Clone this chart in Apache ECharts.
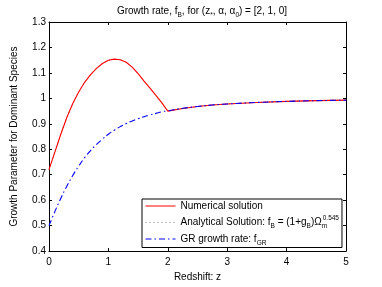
<!DOCTYPE html>
<html><head><meta charset="utf-8">
<script src="https://cdn.jsdelivr.net/npm/echarts@6/dist/echarts.min.js"></script>
<style>html,body{margin:0;padding:0;background:#fff}#c{width:382px;height:287px}</style>
</head><body><div id="c"></div>
<script>
var zValues = [0,0.1,0.2,0.3,0.4,0.5,0.6,0.7,0.8,0.9,1.0,1.1,1.2,1.3,1.4,1.5,1.6,1.7,1.8,1.9,2.0,2.25,2.5,2.75,3.0,3.5,4.0,4.5,5.0];
var numerical = [0.72,0.79,0.86,0.925,0.98,1.025,1.063,1.093,1.118,1.137,1.150,1.154,1.152,1.142,1.123,1.097,1.068,1.040,1.012,0.982,0.950,0.960,0.968,0.974,0.978,0.984,0.988,0.991,0.993];
var analytical = numerical.slice();
var grRate = [0.500,0.556,0.608,0.655,0.697,0.734,0.767,0.795,0.819,0.840,0.859,0.875,0.889,0.901,0.911,0.920,0.928,0.935,0.941,0.947,0.951,0.961,0.968,0.974,0.978,0.984,0.988,0.991,0.993];
var xTicks = [0,1,2,3,4,5];
var yTicks = [0.4,0.5,0.6,0.7,0.8,0.9,1,1.1,1.2,1.3];

function pairs(ys){ return zValues.map(function(z,i){ return [z, ys[i]]; }); }
var FONT = 'Liberation Sans, Arial, sans-serif';
var FS = 10;
var chart = echarts.init(document.getElementById('c'), null, {renderer:'canvas'});
var axisCommon = {
  axisLine:{show:true,onZero:false,lineStyle:{color:'#000',width:1}},
  axisTick:{show:true,inside:true,length:3,lineStyle:{color:'#000'}},
  splitLine:{show:false}
};
var rich = {
  a:{fontSize:FS,fontFamily:FONT,color:'#000',lineHeight:15,verticalAlign:'middle'},
  sub:{fontSize:6.5,fontFamily:FONT,color:'#000',lineHeight:15,verticalAlign:'bottom',padding:[5,0,0,0]},
  subm:{fontSize:6.5,fontFamily:FONT,color:'#000',lineHeight:15,verticalAlign:'bottom',padding:[5,0,0,0],width:1},
  sup:{fontSize:6.5,fontFamily:FONT,color:'#000',lineHeight:15,verticalAlign:'top',padding:[0,0,5,0]}
};
var names = ['Numerical solution','Analytical Solution','GR growth rate'];
chart.setOption({
  animation:false,
  backgroundColor:'#fff',
  title:{
    text:'{a|Growth rate, f}{sub|B}{a|, for (z}{sub|*}{a|, α, α}{sub|0}{a|) = [2, 1, 0]}',
    left:197, top:-1, textAlign:'center',
    textStyle:{rich:rich, fontWeight:'normal'}
  },
  grid:{left:49,top:22,right:36,bottom:33},
  legend:{
    orient:'vertical', left:142, top:199,
    data:names,
    itemWidth:30, itemHeight:10, itemGap:4,
    itemStyle:{opacity:0},
    lineStyle:{width:1},
    padding:[2,3,1,3],
    borderColor:'#000', borderWidth:1, backgroundColor:'#fff',
    formatter:function(n){
      if(n===names[0]) return '{a|Numerical solution}';
      if(n===names[1]) return '{a|Analytical Solution: f}{sub|B}{a| = (1+g}{sub|B}{a|)Ω}{subm|m}{sup|0.545}';
      return '{a|GR growth rate: f}{sub|GR}';
    },
    textStyle:{rich:rich}
  },
  xAxis:[
    Object.assign({type:'value',min:0,max:5,interval:1,position:'bottom',
      name:'Redshift: z',nameLocation:'middle',nameGap:19,
      nameTextStyle:{fontFamily:FONT,fontSize:FS,color:'#000'},
      axisLabel:{fontFamily:FONT,fontSize:FS,color:'#000',margin:6,
        formatter:function(v){return xTicks.indexOf(v)>=0?String(v):'';}}},axisCommon),
    Object.assign({type:'value',min:0,max:5,interval:1,position:'top',axisLabel:{show:false}},axisCommon)
  ],
  yAxis:[
    Object.assign({type:'value',min:0.4,max:1.3,interval:0.1,position:'left',
      name:'Growth Parameter for Dominant Species',nameLocation:'middle',nameGap:30,
      nameTextStyle:{fontFamily:FONT,fontSize:FS,color:'#000'},
      axisLabel:{fontFamily:FONT,fontSize:FS,color:'#000',margin:3,
        formatter:function(v){return String(+v.toFixed(1));}}},axisCommon),
    Object.assign({type:'value',min:0.4,max:1.3,interval:0.1,position:'right',axisLabel:{show:false}},axisCommon)
  ],
  series:[
    {name:names[0],type:'line',data:pairs(numerical),smooth:false,showSymbol:false,symbol:'none',
      lineStyle:{color:'#ff0000',width:1.1},itemStyle:{color:'#ff0000'},z:2},
    {name:names[1],type:'line',data:pairs(analytical),smooth:false,showSymbol:false,symbol:'none',
      lineStyle:{color:'#777777',width:1,type:[1,3]},itemStyle:{color:'#777777'},z:1},
    {name:names[2],type:'line',data:pairs(grRate),smooth:true,showSymbol:false,symbol:'none',
      lineStyle:{color:'#0000ff',width:1.1,type:[6,3,1.5,3]},itemStyle:{color:'#0000ff'},z:3}
  ]
});
</script></body></html>
